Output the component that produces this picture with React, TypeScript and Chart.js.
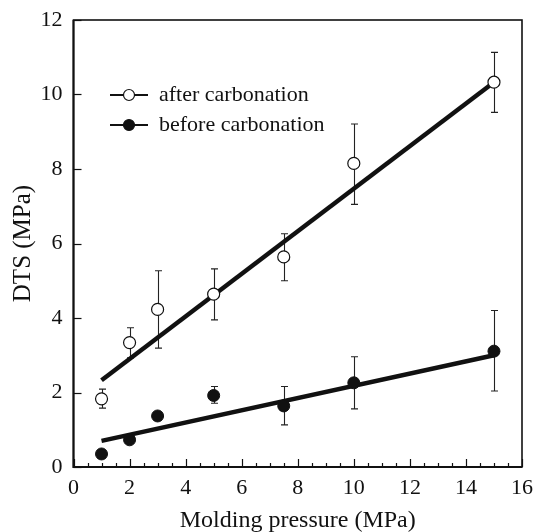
import React, { useEffect, useRef } from 'react';
import { Chart, registerables } from 'chart.js';

Chart.register(...registerables);

// ---- data ----
const pressures = [1, 2, 3, 5, 7.5, 10, 15];
const afterMean = [1.83, 3.34, 4.23, 4.64, 5.64, 8.15, 10.33];
const afterUpper = [2.09, 3.74, 5.27, 5.32, 6.26, 9.21, 11.13];
const afterLower = [1.58, 2.93, 3.19, 3.95, 5.0, 7.05, 9.52];
const beforeMean = [0.35, 0.73, 1.37, 1.92, 1.64, 2.26, 3.11];
const beforeUpper = [null, null, null, 2.16, 2.16, 2.96, 4.2];
const beforeLower = [null, null, null, 1.71, 1.13, 1.56, 2.04];
const fitX = [1, 15];
const afterFitY = [2.33, 10.33];
const beforeFitY = [0.7, 3.0];
const legendLabels = ['after carbonation', 'before carbonation'];
const xTitle = 'Molding pressure (MPa)';
const yTitle = 'DTS (MPa)';

const SERIF = '"Liberation Serif", "Times New Roman", serif';

const frameAndTicks = {
  id: 'frameAndTicks',
  afterDraw(chart: any) {
    const { ctx, chartArea: a, scales } = chart;
    const xs = scales.x;
    const ys = scales.y;
    ctx.save();
    ctx.strokeStyle = '#111';
    ctx.lineWidth = 1.2;
    for (let v = 0; v <= 16.0001; v += 0.5) {
      const px = Math.round(xs.getPixelForValue(v)) + 0.5;
      const major = Math.abs(v / 2 - Math.round(v / 2)) < 1e-6;
      const len = major ? 8 : 4;
      ctx.beginPath();
      ctx.moveTo(px, a.bottom);
      ctx.lineTo(px, a.bottom - len);
      ctx.stroke();
    }
    for (let v = 0; v <= 12.0001; v += 2) {
      const py = Math.round(ys.getPixelForValue(v)) + 0.5;
      ctx.beginPath();
      ctx.moveTo(a.left, py);
      ctx.lineTo(a.left + 8, py);
      ctx.stroke();
    }
    ctx.lineWidth = 1.6;
    ctx.strokeRect(a.left, a.top, a.right - a.left, a.bottom - a.top);
    ctx.lineWidth = 2;
    ctx.beginPath();
    ctx.moveTo(a.left, a.top);
    ctx.lineTo(a.left, a.bottom);
    ctx.lineTo(a.right, a.bottom);
    ctx.stroke();
    ctx.restore();
  },
};

const errorBars = {
  id: 'errorBars',
  beforeDatasetsDraw(chart: any) {
    const { ctx, scales } = chart;
    const ys = scales.y;
    ctx.save();
    ctx.strokeStyle = '#222';
    ctx.lineWidth = 1.1;
    chart.data.datasets.forEach((ds: any, di: number) => {
      if (!ds.errUpper) return;
      const meta = chart.getDatasetMeta(di);
      meta.data.forEach((pt: any, i: number) => {
        const up = ds.errUpper[i];
        const lo = ds.errLower[i];
        if (up == null || lo == null) return;
        const x = Math.round(pt.x) + 0.5;
        const yT = ys.getPixelForValue(up);
        const yB = ys.getPixelForValue(lo);
        ctx.beginPath();
        ctx.moveTo(x, yT);
        ctx.lineTo(x, yB);
        ctx.moveTo(x - 3.5, yT);
        ctx.lineTo(x + 3.5, yT);
        ctx.moveTo(x - 3.5, yB);
        ctx.lineTo(x + 3.5, yB);
        ctx.stroke();
      });
    });
    ctx.restore();
  },
};

const customLegend = {
  id: 'customLegend',
  afterDraw(chart: any) {
    const { ctx } = chart;
    const rows = [
      { y: 95, fill: '#fff', label: legendLabels[0] },
      { y: 125, fill: '#111', label: legendLabels[1] },
    ];
    ctx.save();
    rows.forEach((r) => {
      ctx.strokeStyle = '#111';
      ctx.lineWidth = 2;
      ctx.beginPath();
      ctx.moveTo(110, r.y);
      ctx.lineTo(148, r.y);
      ctx.stroke();
      ctx.beginPath();
      ctx.arc(129, r.y, 5.5, 0, Math.PI * 2);
      ctx.fillStyle = r.fill;
      ctx.fill();
      ctx.lineWidth = 1.2;
      ctx.stroke();
      ctx.fillStyle = '#111';
      ctx.font = `22px ${SERIF}`;
      ctx.textBaseline = 'middle';
      ctx.textAlign = 'left';
      ctx.fillText(r.label, 159, r.y);
    });
    ctx.restore();
  },
};

export default function App() {
  const ref = useRef<HTMLCanvasElement | null>(null);

  useEffect(() => {
    if (!ref.current) return;
    const toPts = (xs: number[], ys: number[]) => xs.map((x, i) => ({ x, y: ys[i] }));
    const chart = new Chart(ref.current, {
      type: 'scatter',
      data: {
        datasets: [
          {
            label: legendLabels[0],
            data: toPts(pressures, afterMean),
            errUpper: afterUpper,
            errLower: afterLower,
            pointRadius: 6,
            pointBackgroundColor: '#fff',
            pointBorderColor: '#111',
            pointBorderWidth: 1.2,
            showLine: false,
            order: 1,
          } as any,
          {
            label: legendLabels[1],
            data: toPts(pressures, beforeMean),
            errUpper: beforeUpper,
            errLower: beforeLower,
            pointRadius: 6,
            pointBackgroundColor: '#111',
            pointBorderColor: '#111',
            pointBorderWidth: 1,
            showLine: false,
            order: 1,
          } as any,
          {
            label: 'fit after',
            data: toPts(fitX, afterFitY),
            showLine: true,
            borderColor: '#111',
            borderWidth: 4.5,
            pointRadius: 0,
            order: 2,
          },
          {
            label: 'fit before',
            data: toPts(fitX, beforeFitY),
            showLine: true,
            borderColor: '#111',
            borderWidth: 4.5,
            pointRadius: 0,
            order: 2,
          },
        ],
      },
      options: {
        animation: false,
        responsive: false,
        devicePixelRatio: 1,
        layout: { padding: { top: 20, right: 12, left: 0, bottom: 0 } },
        plugins: {
          legend: { display: false },
          tooltip: { enabled: false },
        },
        scales: {
          x: {
            type: 'linear',
            min: 0,
            max: 16,
            afterFit: (s: any) => {
              s.height = 65;
              s.paddingLeft = 0;
              s.paddingRight = 0;
            },
            ticks: {
              stepSize: 2,
              padding: 8,
              color: '#111',
              font: { family: SERIF, size: 22 },
              maxRotation: 0,
            },
            grid: { drawOnChartArea: false, drawTicks: false, lineWidth: 0 },
            border: { display: false },
            title: {
              display: true,
              text: xTitle,
              color: '#111',
              font: { family: SERIF, size: 24 },
              padding: { top: 0, bottom: -3 },
            },
          },
          y: {
            type: 'linear',
            min: 0,
            max: 12,
            afterFit: (s: any) => {
              s.width = 73.5;
              s.paddingTop = 0;
              s.paddingBottom = 0;
            },
            ticks: {
              stepSize: 2,
              padding: 11,
              color: '#111',
              font: { family: SERIF, size: 22 },
            },
            grid: { drawOnChartArea: false, drawTicks: false, lineWidth: 0 },
            border: { display: false },
            title: {
              display: true,
              text: yTitle,
              color: '#111',
              font: { family: SERIF, size: 25 },
              padding: { top: 8, bottom: 0 },
            },
          },
        },
      },
      plugins: [errorBars, frameAndTicks, customLegend],
    });
    return () => chart.destroy();
  }, []);

  return (
    <div style={{ position: 'absolute', left: 0, top: 0, width: 534, height: 532, background: '#fff' }}>
      <canvas ref={ref} width={534} height={532} style={{ display: 'block' }} />
    </div>
  );
}
